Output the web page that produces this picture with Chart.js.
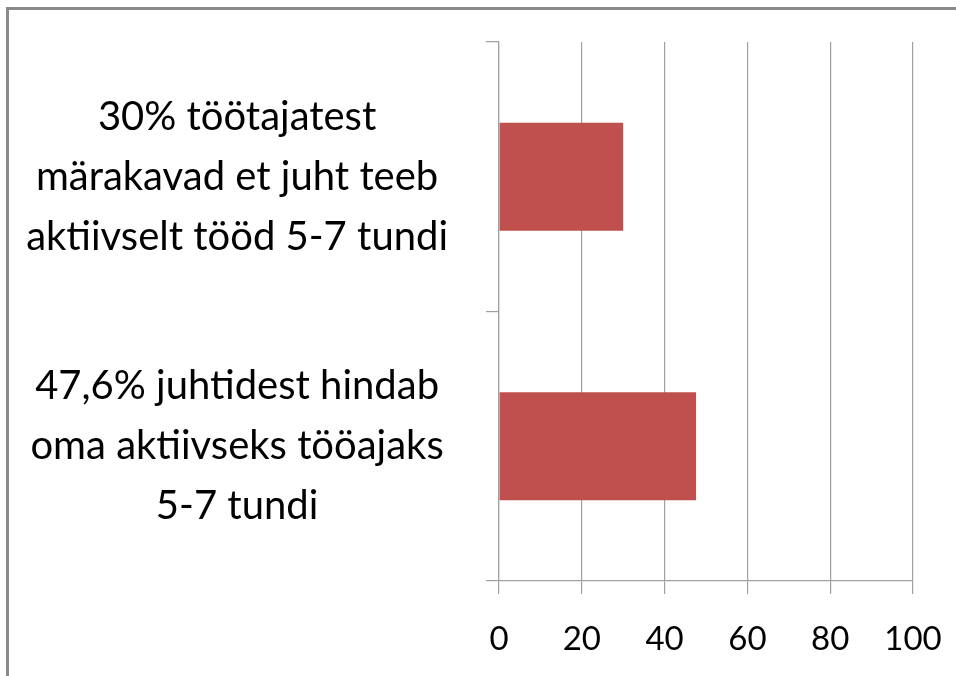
<!DOCTYPE html>
<html lang="et">
<head>
  <meta charset="UTF-8">
  <title>Aktiivne tööaeg</title>
  <script src="https://cdn.jsdelivr.net/npm/chart.js"></script>
  <style>
    body { margin: 0; background: #fff; }
    #wrap { position: relative; width: 956px; height: 676px; overflow: hidden; }
    /* grey frame of the original slide, only top and left edges are visible */
    #frame { position: absolute; left: 6px; top: 7px; width: 1000px; height: 700px;
             border-top: 3px solid #8a8a8a; border-left: 3px solid #8a8a8a; }
    #myChart { position: absolute; left: 0; top: 0; }
  </style>
</head>
<body>
  <div id="wrap">
    <div id="frame"></div>
    <canvas id="myChart" width="956" height="676"></canvas>
  </div>

  <script>
    // categories (multi-line labels) and values
    const categories = [
      ["30% töötajatest", "märakavad et juht teeb", "aktiivselt tööd 5-7 tundi"],
      ["47,6% juhtidest hindab", "oma aktiivseks tööajaks", "5-7 tundi"]
    ];
    const values = [30, 47.6];
    const xMin = 0;
    const xMax = 100;
    const xStep = 20;

    const gridColor = '#a0a0a0';

    const ctx = document.getElementById('myChart').getContext('2d');
    const myChart = new Chart(ctx, {
      type: 'bar',
      data: {
        labels: categories,
        datasets: [{
          data: values,
          backgroundColor: '#c0504d',
          borderWidth: 0,
          barPercentage: 0.4,
          categoryPercentage: 1
        }]
      },
      options: {
        indexAxis: 'y',
        responsive: false,
        animation: false,
        layout: { padding: { top: 42, right: 43, left: 0, bottom: 0 } },
        plugins: {
          legend: { display: false },
          tooltip: { enabled: false }
        },
        scales: {
          x: {
            min: xMin,
            max: xMax,
            ticks: {
              stepSize: xStep,
              color: '#000',
              padding: 26,
              font: { family: 'Lato', size: 33 }
            },
            grid: { color: gridColor, tickLength: 13, lineWidth: 1.2 },
            border: { color: gridColor, width: 1.2 },
            afterFit: function (scale) {
              scale.height = 95;
              scale.paddingLeft = 0;
              scale.paddingRight = 0;
            }
          },
          y: {
            offset: true,
            ticks: {
              color: '#000',
              crossAlign: 'center',
              padding: 38,
              font: { family: 'Lato', size: 40, lineHeight: 1.5 }
            },
            grid: { offset: true, drawOnChartArea: false, color: gridColor, tickLength: 13, lineWidth: 1.2 },
            border: { color: gridColor, width: 1.2 },
            afterFit: function (scale) {
              // labels sit in the middle of each band, no extra room needed above/below
              scale.width = 499;
              scale.paddingTop = 0;
              scale.paddingBottom = 0;
            }
          }
        }
      }
    });
  </script>
</body>
</html>
